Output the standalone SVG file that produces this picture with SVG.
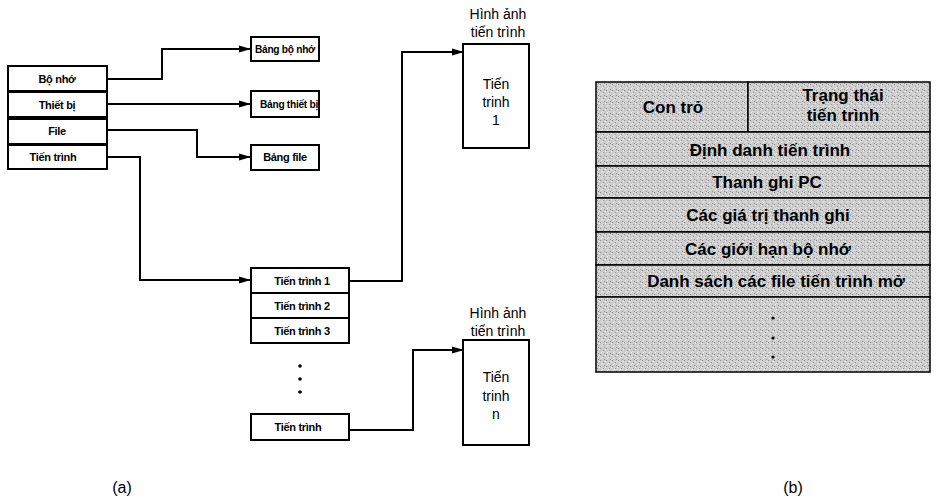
<svg xmlns="http://www.w3.org/2000/svg" width="950" height="498" viewBox="0 0 950 498">
<style>
.box{fill:#fff;stroke:#000;stroke-width:2}
.sm{font-family:"Liberation Sans",Arial,sans-serif;font-size:11px;font-weight:bold;fill:#000;text-anchor:middle;letter-spacing:-0.3px}
.lbl{font-family:"Liberation Sans",Arial,sans-serif;font-size:14px;fill:#000;text-anchor:middle}
.tb{font-family:"Liberation Sans",Arial,sans-serif;font-size:17px;font-weight:bold;fill:#000;text-anchor:middle}
.cap{font-family:"Liberation Sans",Arial,sans-serif;font-size:16px;fill:#000;text-anchor:middle}
.row{fill:url(#dither);stroke:#000;stroke-width:1.5}
.conn{fill:none;stroke:#000;stroke-width:2}
</style>
<defs>
<marker id="arr" markerWidth="12" markerHeight="8" refX="11" refY="4" orient="auto" markerUnits="userSpaceOnUse">
<path d="M0,0.5 L12,4 L0,7.5 Z" fill="#000"/>
</marker>
<pattern id="dither" width="6" height="6" patternUnits="userSpaceOnUse">
<rect width="6" height="6" fill="#cdcdcd"/>
<rect x="0" y="0" width="1" height="1" fill="#8a8a8a"/>
<rect x="3" y="2" width="1" height="1" fill="#9a9a9a"/>
<rect x="1" y="4" width="1" height="1" fill="#f4f4f4"/>
<rect x="4" y="5" width="1" height="1" fill="#909090"/>
<rect x="5" y="1" width="1" height="1" fill="#f0f0f0"/>
<rect x="2" y="3" width="1" height="1" fill="#ececec"/>
</pattern>
</defs>

<g id="connectors">
<path class="conn" d="M107,79 H162 V49 H250" marker-end="url(#arr)"/>
<path class="conn" d="M107,104 H250" marker-end="url(#arr)"/>
<path class="conn" d="M107,130 H197 V157 H250" marker-end="url(#arr)"/>
<path class="conn" d="M107,157 H140 V280 H250" marker-end="url(#arr)"/>
<path class="conn" d="M349,281 H402 V52 H463" marker-end="url(#arr)"/>
<path class="conn" d="M349,430 H413 V350 H463" marker-end="url(#arr)"/>
</g>

<g id="bo-nho"><rect class="box" x="8" y="66" width="99" height="25"/><text class="sm" x="57" y="83">Bộ nhớ</text></g>
<g id="thiet-bi"><rect class="box" x="8" y="92" width="99" height="25"/><text class="sm" x="57" y="109">Thiết bị</text></g>
<g id="file"><rect class="box" x="8" y="119" width="99" height="25"/><text class="sm" x="57" y="135">File</text></g>
<g id="tien-trinh"><rect class="box" x="8" y="145" width="99" height="24"/><text class="sm" x="53" y="161">Tiến trình</text></g>

<g id="bang-bo-nho"><rect class="box" x="251" y="37" width="68" height="24"/><text class="sm" x="285" y="53" textLength="60" lengthAdjust="spacingAndGlyphs">Bảng bộ nhớ</text></g>
<g id="bang-thiet-bi"><rect class="box" x="251" y="91" width="68" height="26"/><text class="sm" x="289" y="108" textLength="58" lengthAdjust="spacingAndGlyphs">Bảng thiết bị</text></g>
<g id="bang-file"><rect class="box" x="251" y="145" width="68" height="25"/><text class="sm" x="285" y="161">Bảng file</text></g>

<g id="tien-trinh-1"><rect class="box" x="251" y="268" width="98" height="25"/><text class="sm" x="302" y="285">Tiến trình 1</text></g>
<g id="tien-trinh-2"><rect class="box" x="251" y="293" width="98" height="25"/><text class="sm" x="302" y="310">Tiến trình 2</text></g>
<g id="tien-trinh-3"><rect class="box" x="251" y="318" width="98" height="25"/><text class="sm" x="302" y="335">Tiến trình 3</text></g>
<g id="dots-a">
<circle cx="300" cy="366" r="1.8" fill="#000"/>
<circle cx="300" cy="379" r="1.8" fill="#000"/>
<circle cx="300" cy="392" r="1.8" fill="#000"/>
</g>
<g id="tien-trinh-n"><rect class="box" x="251" y="414" width="98" height="26"/><text class="sm" x="298" y="431">Tiến trình</text></g>

<g id="hinh-anh-1">
<text class="lbl" x="498" y="19">Hình ảnh</text>
<text class="lbl" x="498" y="37">tiến trình</text>
<rect class="box" x="463" y="44" width="66" height="104"/>
<text class="lbl" x="496" y="89">Tiến</text>
<text class="lbl" x="496" y="107">trinh</text>
<text class="lbl" x="496" y="125">1</text>
</g>
<g id="hinh-anh-n">
<text class="lbl" x="498" y="318">Hình ảnh</text>
<text class="lbl" x="498" y="336">tiến trình</text>
<rect class="box" x="463" y="340" width="66" height="105"/>
<text class="lbl" x="496" y="382">Tiến</text>
<text class="lbl" x="496" y="401">trinh</text>
<text class="lbl" x="496" y="419">n</text>
</g>

<g id="pcb">
<rect class="row" x="596" y="82" width="152" height="50"/>
<rect class="row" x="748" y="82" width="182" height="50"/>
<rect class="row" x="596" y="132" width="334" height="34"/>
<rect class="row" x="596" y="166" width="334" height="32"/>
<rect class="row" x="596" y="198" width="334" height="34"/>
<rect class="row" x="596" y="232" width="334" height="33"/>
<rect class="row" x="596" y="265" width="334" height="32"/>
<rect class="row" x="596" y="297" width="334" height="75"/>
<text class="tb" x="673" y="113">Con trỏ</text>
<text class="tb" x="843" y="101">Trạng thái</text>
<text class="tb" x="843" y="121">tiến trình</text>
<text class="tb" x="770" y="156">Định danh tiến trình</text>
<text class="tb" x="767" y="188">Thanh ghi PC</text>
<text class="tb" x="768" y="221">Các giá trị thanh ghi</text>
<text class="tb" x="768" y="255">Các giới hạn bộ nhớ</text>
<text class="tb" x="776" y="287">Danh sách các file tiến trình mở</text>
<circle cx="773" cy="318" r="1.6" fill="#000"/>
<circle cx="773" cy="338" r="1.6" fill="#000"/>
<circle cx="773" cy="357" r="1.6" fill="#000"/>
</g>

<text class="cap" x="122" y="493">(a)</text>
<text class="cap" x="793" y="493">(b)</text>
</svg>
